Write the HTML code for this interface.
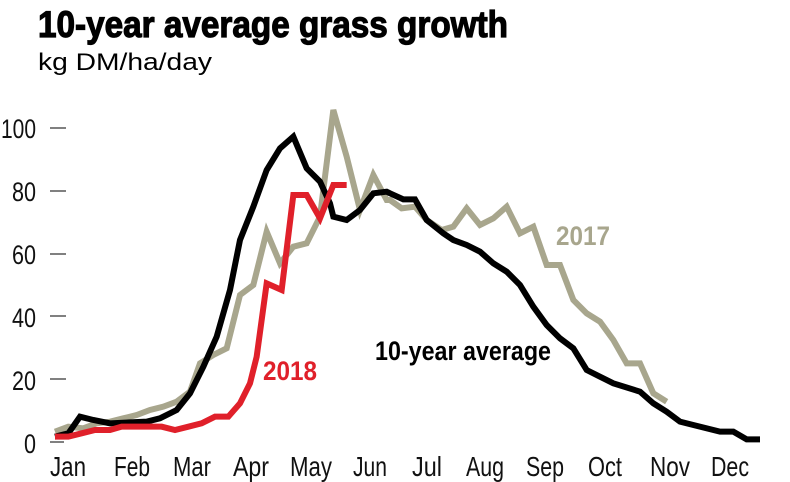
<!DOCTYPE html>
<html><head><style>html,body{margin:0;padding:0;background:#fff}svg{display:block}</style></head>
<body>
<svg width="790" height="482" viewBox="0 0 790 482" xmlns="http://www.w3.org/2000/svg" font-family="Liberation Sans Narrow, Liberation Sans, sans-serif">
<text x="38" y="37" font-size="37" font-weight="bold" stroke="#000" stroke-width="1.2" textLength="470" lengthAdjust="spacingAndGlyphs">10-year average grass growth</text>
<text x="38" y="70" font-size="24" textLength="174" lengthAdjust="spacingAndGlyphs">kg DM/ha/day</text>
<g font-size="27" text-anchor="end" fill="#111">
<text x="36" y="138" textLength="35" lengthAdjust="spacingAndGlyphs">100</text>
<text x="36" y="201" textLength="24" lengthAdjust="spacingAndGlyphs">80</text>
<text x="36" y="264" textLength="24" lengthAdjust="spacingAndGlyphs">60</text>
<text x="36" y="327" textLength="24" lengthAdjust="spacingAndGlyphs">40</text>
<text x="36" y="390" textLength="24" lengthAdjust="spacingAndGlyphs">20</text>
<text x="36" y="453" textLength="12" lengthAdjust="spacingAndGlyphs">0</text>
</g>
<g stroke="#555" stroke-width="1.5">
<line x1="50" y1="128" x2="66" y2="128"/><line x1="50" y1="191" x2="66" y2="191"/><line x1="50" y1="254" x2="66" y2="254"/><line x1="50" y1="316" x2="66" y2="316"/><line x1="50" y1="379" x2="66" y2="379"/>
<line x1="50" y1="442" x2="64" y2="442"/>
</g>
<g id="ticks" stroke="#555" stroke-width="1.5"></g>
<g font-size="28" text-anchor="middle" fill="#111">
<text x="68" y="476" textLength="36" lengthAdjust="spacingAndGlyphs">Jan</text><text x="132" y="476" textLength="36" lengthAdjust="spacingAndGlyphs">Feb</text><text x="192" y="476" textLength="38" lengthAdjust="spacingAndGlyphs">Mar</text><text x="251" y="476" textLength="36" lengthAdjust="spacingAndGlyphs">Apr</text><text x="311" y="476" textLength="42" lengthAdjust="spacingAndGlyphs">May</text><text x="370" y="476" textLength="34" lengthAdjust="spacingAndGlyphs">Jun</text><text x="427" y="476" textLength="30" lengthAdjust="spacingAndGlyphs">Jul</text><text x="485" y="476" textLength="38" lengthAdjust="spacingAndGlyphs">Aug</text><text x="545" y="476" textLength="38" lengthAdjust="spacingAndGlyphs">Sep</text><text x="605" y="476" textLength="34" lengthAdjust="spacingAndGlyphs">Oct</text><text x="670" y="476" textLength="40" lengthAdjust="spacingAndGlyphs">Nov</text><text x="730" y="476" textLength="38" lengthAdjust="spacingAndGlyphs">Dec</text>
</g>
<g fill="none" stroke-width="6" stroke-linejoin="miter">
<polyline id="gray" stroke="#a8a68d"/>
<polyline id="black" stroke="#000"/>
<polyline id="red" stroke="#e0202a"/>
</g>
<text x="263" y="380" font-size="27" font-weight="bold" fill="#e0202a" textLength="54" lengthAdjust="spacingAndGlyphs">2018</text>
<text x="556" y="245" font-size="27" font-weight="bold" fill="#a8a68d" textLength="54" lengthAdjust="spacingAndGlyphs">2017</text>
<text x="375" y="360" font-size="27" font-weight="bold" fill="#000" textLength="176" lengthAdjust="spacingAndGlyphs">10-year average</text>
<script>
function z1(a){return a.map(p=>(p[0]/3)+","+(90+p[1]/3)).join(" ");}
function z2(a){return a.map(p=>(390+p[0]/3)+","+(90+p[1]/3)).join(" ");}
var b1=[[165,1040],[205,1030],[240,980],[280,990],[330,1000],[440,995],[480,985],[530,960],[570,910],[610,830],[650,740],[690,600],[720,450],[760,350],[800,240],[840,175],[880,140],[920,235],[960,275],[990,340],[1000,380],[1040,390],[1080,360],[1120,310],[1160,305]];
var b2=[[0,310],[40,328],[75,328],[110,390],[160,430],[190,450],[230,465],[270,485],[310,520],[350,545],[390,585],[430,650],[470,705],[510,745],[550,775],[590,840],[630,860],[670,880],[750,905],[790,940],[830,965],[870,995],[910,1005],[990,1025],[1030,1025],[1070,1048],[1110,1048]];
var g1=[[165,1025],[205,1010],[250,1015],[290,1000],[330,995],[370,985],[410,975],[450,960],[490,950],[530,935],[570,905],[600,820],[640,795],[680,775],[720,615],[760,585],[800,425],[840,520],[880,470],[920,460],[960,380],[1000,60],[1040,200],[1080,360],[1120,255],[1160,330]];
var g2=[[0,330],[35,355],[75,350],[110,390],[155,420],[190,410],[230,355],[270,405],[310,385],[350,350],[390,430],[430,410],[470,525],[510,525],[550,630],[590,670],[630,695],[670,750],[710,820],[750,820],[790,910],[830,935]];
var r1=[[165,1040],[205,1040],[245,1030],[285,1020],[330,1020],[365,1010],[485,1010],[525,1020],[565,1010],[605,1000],[645,980],[685,980],[720,940],[750,880],[770,800],[800,580],[845,600],[880,315],[920,315],[960,385],[1000,285],[1040,285]];
document.getElementById("black").setAttribute("points",z1(b1)+" "+z2(b2));
document.getElementById("gray").setAttribute("points",z1(g1)+" "+z2(g2));
document.getElementById("red").setAttribute("points",z1(r1));
var t="";for(var x=62;x<760;x+=13.3){t+='<line x1="'+x+'" y1="436" x2="'+x+'" y2="442"/>';}
document.getElementById("ticks").innerHTML=t;
</script>
</svg>
</body></html>
